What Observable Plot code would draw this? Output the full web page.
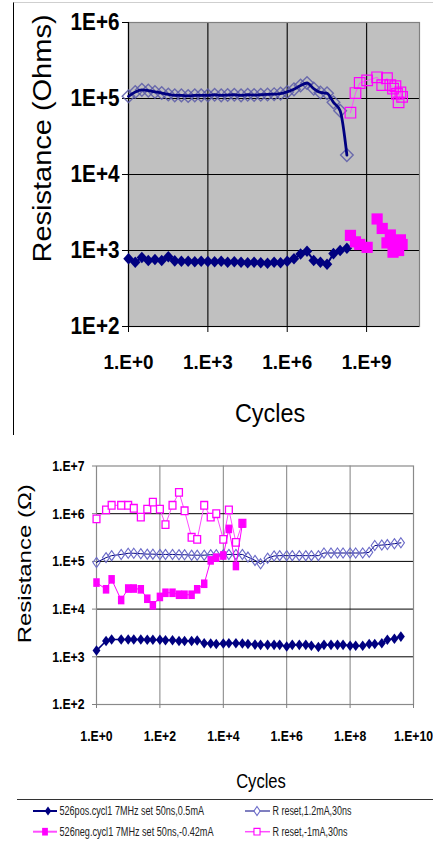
<!DOCTYPE html>
<html>
<head>
<meta charset="utf-8">
<script src="https://cdn.jsdelivr.net/npm/d3@7"></script>
<script src="https://cdn.jsdelivr.net/npm/@observablehq/plot@0.6"></script>
<style>
  body { margin: 0; background: #fff; }
  #page { position: relative; width: 433px; height: 841px; overflow: hidden; font-family: "Liberation Sans", Arial, sans-serif; }
  #top, #bottom, #legend { position: absolute; left: 0; }
  #top { top: 0; }
  #bottom { top: 440px; }
  #legend { top: 797px; }
  #sheet { position: absolute; left: 13px; top: 2px; width: 420px; height: 433px; border-left: 1.5px solid #000; border-top: 1px solid #cfcfcf; box-sizing: border-box; pointer-events: none; z-index: 2; }
  svg { background: transparent !important; }
</style>
</head>
<body>
<div id="page">
  <div id="top"></div>
  <div id="sheet"></div>
  <div id="bottom"></div>
  <div id="legend"></div>
</div>
<script>
// ---------- upper panel: endurance to 1e11 cycles ----------
const topCycles = [1, 1.8, 3.2, 5.6, 10, 18, 32, 56, 100, 180, 320, 560,
  1e3, 1.8e3, 3.2e3, 5.6e3, 1e4, 1.8e4, 3.2e4, 5.6e4, 1e5, 1.8e5, 3.2e5, 5.6e5,
  1e6, 1.8e6, 3.2e6, 5.6e6, 1e7, 1.8e7, 3.2e7, 5.6e7, 1e8, 1.8e8];
const topSetOhms = [780, 700, 810, 740, 760, 740, 830, 730, 720, 720, 710, 720,
  715, 710, 720, 700, 710, 700, 690, 700, 690, 680, 700, 690,
  720, 780, 900, 980, 740, 700, 660, 910, 1000, 1070];
const topResetOhms = [1.07e5, 1.22e5, 1.3e5, 1.27e5, 1.22e5, 1.18e5, 1.13e5, 1.1e5, 1.1e5, 1.08e5, 1.1e5, 1.1e5,
  1.1e5, 1.12e5, 1.1e5, 1.11e5, 1.12e5, 1.1e5, 1.12e5, 1.11e5, 1.12e5, 1.13e5, 1.14e5, 1.16e5,
  1.22e5, 1.32e5, 1.48e5, 1.6e5, 1.35e5, 1.2e5, 1.17e5, 8.9e4, 6.9e4, 1.8e4];
const topNegCycles = [2.45e8, 3.8e8, 5.5e8, 1.05e9, 2.5e9, 3.9e9, 5.9e9, 7.9e9, 1e10, 1.23e10, 1.41e10, 1.62e10, 1.9e10, 2.2e10];
const topNegSetOhms = [1580, 1300, 1200, 1100, 2600, 1950, 1260, 1600, 950, 1300, 1100, 1000, 1380, 1200];
const topNegResetOhms = [6.5e4, 1.18e5, 1.6e5, 1.73e5, 1.9e5, 1.5e5, 1.85e5, 1.5e5, 1.35e5, 1.45e5, 1.15e5, 8.9e4, 1.2e5, 1.05e5];
const topXTicks = [1, 1e3, 1e6, 1e9];
const topYTicks = [1e2, 1e3, 1e4, 1e5, 1e6];

// ---------- lower panel: 526 device, set / reset resistance ----------
const cycles = [1, 2, 3, 6, 10, 15, 25, 40, 60, 100, 150, 250, 400, 600,
  1e3, 1.5e3, 2.5e3, 4e3, 6e3, 1e4, 1.5e4, 2.5e4, 4e4, 6e4, 1e5, 1.5e5, 2.5e5, 4e5, 6e5,
  1e6, 1.5e6, 2.5e6, 4e6, 6e6, 1e7, 1.5e7, 2.5e7, 4e7, 6e7, 1e8, 1.5e8, 2.5e8, 4e8, 6e8,
  1e9, 1.5e9, 2.5e9, 4e9];
const posSetOhms = [1350, 2150, 2300, 2300, 2300, 2300, 2300, 2280, 2280, 2280, 2220, 2220, 2150, 2150,
  2150, 2200, 1930, 1900, 1850, 1900, 1930, 1930, 1900, 1850, 1800, 1780, 1780, 1780, 1780,
  1650, 1780, 1780, 1780, 1700, 1610, 1780, 1780, 1780, 1780, 1700, 1700, 1700, 1850, 1850,
  1930, 2280, 2400, 2650];
const posResetOhms = [9.5e4, 1.2e5, 1.32e5, 1.4e5, 1.48e5, 1.48e5, 1.45e5, 1.42e5, 1.42e5, 1.4e5, 1.4e5, 1.4e5, 1.38e5, 1.38e5,
  1.35e5, 1.35e5, 1.35e5, 1.38e5, 1.38e5, 1.38e5, 1.4e5, 1.4e5, 1.4e5, 1.23e5, 1.05e5, 8.9e4, 1.17e5, 1.3e5, 1.32e5,
  1.32e5, 1.32e5, 1.32e5, 1.32e5, 1.32e5, 1.32e5, 1.5e5, 1.5e5, 1.5e5, 1.5e5, 1.5e5, 1.5e5, 1.5e5, 1.55e5, 2.15e5,
  2.2e5, 2.25e5, 2.35e5, 2.45e5];
const negSetOhms = [3.6e4, 2.6e4, 4.2e4, 1.55e4, 2.7e4, 2.7e4, 2.6e4, 1.65e4, 1.2e4, 1.8e4, 2.2e4, 2.2e4, 2.0e4, 2.0e4,
  2.0e4, 2.6e4, 3.4e4, 1.05e5, 1.2e5, 1.33e5, 4.8e5, 8.0e4, 6.2e5];
const negResetOhms = [7.8e5, 1.2e6, 1.5e6, 1.5e6, 1.5e6, 1.3e6, 8.5e5, 1.25e6, 1.75e6, 1.25e6, 5.9e5, 1.5e6, 2.8e6, 1.15e6,
  3.2e5, 2.9e5, 1.5e6, 8.5e5, 1.0e6, 2.9e5, 1.2e6, 2.5e5, 6.3e5];
const botXTicks = [1, 1e2, 1e4, 1e6, 1e8, 1e10];
const botYTicks = [1e2, 1e3, 1e4, 1e5, 1e6, 1e7];

const seriesNames = [
  "526pos.cycl1  7MHz set 50ns,0.5mA",
  "R reset,1.2mA,30ns",
  "526neg.cycl1  7MHz set 50ns,-0.42mA",
  "R reset,-1mA,30ns"
];

const NAVY = "#000080", MAGENTA = "#ff00ff", PINK = "#ff4dff", DIAMOND_EDGE = "#5a5aa8";
const FONT = "'Liberation Sans', Arial, Helvetica, sans-serif";

// Excel-style markers: diamonds and rectangles with independent half-width / half-height
function diamondShape(w, h) {
  return {draw(ctx, size) {
    const r = Math.sqrt(size / Math.PI), a = r * w, b = r * h;
    ctx.moveTo(0, -b); ctx.lineTo(a, 0); ctx.lineTo(0, b); ctx.lineTo(-a, 0); ctx.closePath();
  }};
}
function rectShape(w, h) {
  return {draw(ctx, size) {
    const r = Math.sqrt(size / Math.PI), a = r * w, b = r * h;
    ctx.rect(-a, -b, 2 * a, 2 * b);
  }};
}

const pairs = (xs, ys) => ys.map((y, i) => ({x: xs[i], y}));
const pow10 = (d) => Math.round(Math.log10(d));

// narrow the glyphs of every label horizontally (the charts use compressed lettering)
function squeeze(svg, sx) {
  d3.select(svg).selectAll("text").each(function () {
    const t = this.getAttribute("transform");
    if (t == null) return;
    this.setAttribute("transform", t + (/rotate/.test(t) ? ` scale(1,${sx})` : ` scale(${sx},1)`));
  });
}

// ---------- upper panel ----------
const topSet = pairs(topCycles, topSetOhms);
const topReset = pairs(topCycles, topResetOhms);
const topNegSet = pairs(topNegCycles, topNegSetOhms);
const topNegReset = pairs(topNegCycles, topNegResetOhms);

const topChart = Plot.plot({
  width: 433, height: 436,
  marginLeft: 128, marginRight: 14, marginTop: 22, marginBottom: 110,
  style: {fontFamily: FONT, background: "transparent", overflow: "visible"},
  x: {type: "log", domain: [1, 1e11]},
  y: {type: "log", domain: [1e2, 1e6]},
  marks: [
    Plot.frame({fill: "#c0c0c0"}),
    Plot.ruleX(topXTicks.slice(1), {stroke: "#111", strokeWidth: 1.2}),
    Plot.ruleY(topYTicks.slice(1, -1), {stroke: "#000", strokeWidth: 1.2}),
    Plot.frame({stroke: "#808080", strokeWidth: 1.2}),
    Plot.ruleX([1], {stroke: "#000", strokeWidth: 1.2}),
    Plot.ruleY([1e2], {stroke: "#000", strokeWidth: 1.2}),
    Plot.axisX({ticks: topXTicks, tickSize: 6, tickPadding: 22, tickFormat: (d) => `1.E+${pow10(d)}`,
      fontSize: 21, fontWeight: "bold", stroke: "#000", fill: "#000", label: null}),
    Plot.axisY({ticks: topYTicks, tickSize: 6, tickPadding: 3, tickFormat: (d) => `1E+${pow10(d)}`,
      fontSize: 23, fontWeight: "bold", stroke: "#000", fill: "#000", label: null}),
    // set state (filled diamonds) and reset state (open diamonds on a heavy line)
    Plot.line(topSet, {x: "x", y: "y", stroke: NAVY, strokeWidth: 2}),
    Plot.dot(topSet, {x: "x", y: "y", r: 5.5, symbol: diamondShape(0.95, 1.05), fill: NAVY, stroke: "none"}),
    Plot.dot(topReset, {x: "x", y: "y", r: 6.3, symbol: diamondShape(1, 1), fill: "none", stroke: DIAMOND_EDGE, strokeWidth: 1.4, strokeOpacity: 0.85}),
    Plot.line(topReset, {x: "x", y: "y", stroke: NAVY, strokeWidth: 2.8, curve: "monotone-x"}),
    // continuation beyond 2e8 cycles
    Plot.line(topNegReset, {x: "x", y: "y", stroke: PINK, strokeWidth: 1}),
    Plot.dot(topNegReset, {x: "x", y: "y", r: 5.3, symbol: rectShape(1, 1), fill: "none", stroke: MAGENTA, strokeWidth: 1.2}),
    Plot.dot(topNegSet, {x: "x", y: "y", r: 5.6, symbol: rectShape(1, 1), fill: MAGENTA, stroke: "none"}),
    // axis titles
    Plot.text(["Cycles"], {frameAnchor: "bottom", dx: -4, dy: 87, textAnchor: "middle", lineAnchor: "middle",
      fontSize: 26, fill: "#000"}),
    Plot.text(["Resistance (Ohms)"], {frameAnchor: "left", rotate: -90, dx: -86, dy: -36, textAnchor: "middle", lineAnchor: "middle",
      fontSize: 29, fill: "#000"})
  ]
});
squeeze(topChart, 0.9);
document.getElementById("top").append(topChart);

// ---------- lower panel ----------
const negCycles = cycles.slice(0, negSetOhms.length);
const posSet = pairs(cycles, posSetOhms);
const posReset = pairs(cycles, posResetOhms);
const negSet = pairs(negCycles, negSetOhms);
const negReset = pairs(negCycles, negResetOhms);

const bottomChart = Plot.plot({
  width: 433, height: 357,
  marginLeft: 96, marginRight: 20, marginTop: 25.5, marginBottom: 93,
  style: {fontFamily: FONT, background: "transparent", overflow: "visible"},
  x: {type: "log", domain: [1, 1e10]},
  y: {type: "log", domain: [1e2, 1e7]},
  marks: [
    Plot.ruleX(botXTicks.slice(1, -1), {stroke: "#808080", strokeWidth: 1}),
    Plot.ruleY(botYTicks.slice(1, -1), {stroke: "#000", strokeWidth: 1}),
    Plot.frame({stroke: "#8a8a8a", strokeWidth: 1.2}),
    Plot.axisX({ticks: botXTicks, tickSize: 4, tickPadding: 21, tickFormat: (d) => `1.E+${pow10(d)}`,
      fontSize: 15.5, fontWeight: "bold", stroke: "#808080", fill: "#000", label: null}),
    Plot.axisY({ticks: botYTicks, tickSize: 4, tickPadding: 8, tickFormat: (d) => `1.E+${pow10(d)}`,
      fontSize: 15.5, fontWeight: "bold", stroke: "#808080", fill: "#000", label: null}),
    Plot.line(posReset, {x: "x", y: "y", stroke: NAVY, strokeWidth: 1}),
    Plot.dot(posReset, {x: "x", y: "y", r: 4.2, symbol: diamondShape(0.85, 1.2), fill: "none", stroke: "#6a6ac8", strokeWidth: 1.1}),
    Plot.line(negReset, {x: "x", y: "y", stroke: PINK, strokeWidth: 1}),
    Plot.dot(negReset, {x: "x", y: "y", r: 3.6, symbol: rectShape(0.95, 1.05), fill: "#fff", stroke: MAGENTA, strokeWidth: 1.3}),
    Plot.line(negSet, {x: "x", y: "y", stroke: MAGENTA, strokeWidth: 1}),
    Plot.dot(negSet, {x: "x", y: "y", r: 3.6, symbol: rectShape(0.9, 1.2), fill: MAGENTA, stroke: "none"}),
    Plot.line(posSet, {x: "x", y: "y", stroke: NAVY, strokeWidth: 1.6}),
    Plot.dot(posSet, {x: "x", y: "y", r: 4.4, symbol: diamondShape(0.9, 1.2), fill: NAVY, stroke: "none"}),
    Plot.text(["Cycles"], {frameAnchor: "bottom", dx: 6, dy: 77, textAnchor: "middle", lineAnchor: "middle",
      fontSize: 21, fill: "#000"}),
    Plot.text(["Resistance (Ω)"], {frameAnchor: "left", rotate: -90, dx: -72, dy: -21.5, textAnchor: "middle", lineAnchor: "middle",
      fontSize: 24, fill: "#000"})
  ]
});
squeeze(bottomChart, 0.79);
document.getElementById("bottom").append(bottomChart);

// ---------- legend below the lower panel ----------
const legend = d3.select("#legend").append("svg")
  .attr("width", 433).attr("height", 44)
  .style("font-family", FONT);
legend.append("line").attr("x1", 17).attr("x2", 433).attr("y1", 2.5).attr("y2", 2.5)
  .attr("stroke", "#333").attr("stroke-width", 1);

const entries = [
  {name: seriesNames[0], x0: 33, x1: 57, mx: 48, y: 14, stroke: NAVY, sw: 2, shape: diamondShape(0.9, 1.25), r: 3.6, fill: NAVY, edge: "none", len: 144.5},
  {name: seriesNames[1], x0: 245, x1: 270, mx: 257, y: 14, stroke: NAVY, sw: 1, shape: diamondShape(0.85, 1.25), r: 3.6, fill: "#fff", edge: "#6a6ac8", len: 79},
  {name: seriesNames[2], x0: 33, x1: 57, mx: 45, y: 34.7, stroke: PINK, sw: 2, shape: rectShape(0.9, 1.2), r: 3.2, fill: MAGENTA, edge: "none", len: 154},
  {name: seriesNames[3], x0: 245, x1: 270, mx: 257, y: 34.7, stroke: PINK, sw: 1.5, shape: rectShape(0.95, 1.05), r: 3.2, fill: "#fff", edge: MAGENTA, len: 75}
];
for (const e of entries) {
  const g = legend.append("g");
  g.append("line").attr("x1", e.x0).attr("x2", e.x1).attr("y1", e.y).attr("y2", e.y)
    .attr("stroke", e.stroke).attr("stroke-width", e.sw);
  const p = d3.path();
  e.shape.draw(p, e.r * e.r * Math.PI);
  g.append("path").attr("d", p.toString()).attr("transform", `translate(${e.mx},${e.y})`)
    .attr("fill", e.fill).attr("stroke", e.edge).attr("stroke-width", 1.1);
  g.append("text").attr("x", e.x1 + 2.5).attr("y", e.y).attr("dy", "0.36em")
    .attr("font-size", 12).attr("fill", "#222")
    .attr("textLength", e.len).attr("lengthAdjust", "spacingAndGlyphs")
    .text(e.name);
}
</script>
</body>
</html>
